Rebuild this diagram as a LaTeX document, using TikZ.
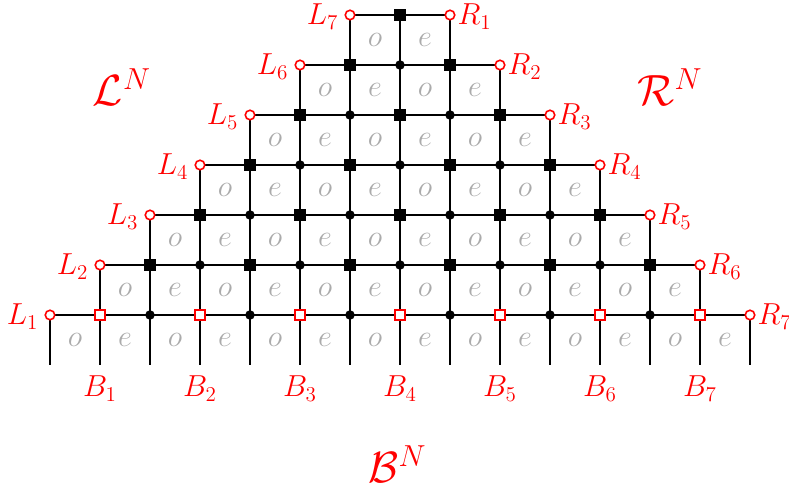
\documentclass[tikz,border=0pt]{standalone}
\begin{document}
\begin{tikzpicture}[x=1cm,y=1cm,
  gridline/.style={line width=1.25pt,black},
  endpt/.style={circle,draw=red,fill=white,line width=0.9pt,inner sep=0pt,minimum size=0.19cm},
  bsq/.style={rectangle,draw=red,fill=white,line width=0.9pt,inner sep=0pt,minimum size=0.2cm},
  fsq/.style={rectangle,fill=black,inner sep=0pt,minimum size=0.23cm},
  bdot/.style={circle,fill=black,inner sep=0pt,minimum size=0.19cm},
  cell/.style={text=black!33,font=\fontsize{17.5}{21}\selectfont},
  lab/.style={text=red,font=\fontsize{17}{20}\selectfont,inner sep=2.5pt},
  biglab/.style={text=red,font=\fontsize{24}{28}\selectfont}]
\useasboundingbox (-1,-3.46) rectangle (14.78,6.3);
% coordinates
\foreach \i in {0,...,14} \coordinate (b\i) at (\i,-1);
\foreach \j in {0,...,6}{
  \pgfmathtruncatemacro\b{14-\j}
  \foreach \i in {\j,...,\b} \coordinate (p\i-\j) at (\i,\j);
}
% horizontal lines
\foreach \j in {0,...,6}{
  \pgfmathtruncatemacro\b{14-\j}
  \draw[gridline] (p\j-\j) -- (p\b-\j);
}
% vertical lines
\foreach \i in {0,...,14}{
  \pgfmathtruncatemacro\m{min(\i,14-\i,6)}
  \draw[gridline] (b\i) -- (p\i-\m);
}
% cell labels
\foreach \i in {0,...,13}{
  \pgfmathtruncatemacro\r{mod(\i,2)}
  \ifnum\r=0 \node[cell] (c\i-m) at (\i+0.5,-0.5) {$o$};
  \else \node[cell] (c\i-m) at (\i+0.5,-0.5) {$e$}; \fi
}
\foreach \j in {0,...,5}{
  \pgfmathtruncatemacro\a{\j+1}
  \pgfmathtruncatemacro\b{12-\j}
  \foreach \i in {\a,...,\b}{
    \pgfmathtruncatemacro\r{mod(\i-\j-1,2)}
    \ifnum\r=0 \node[cell] (c\i-\j) at (\i+0.5,\j+0.5) {$o$};
    \else \node[cell] (c\i-\j) at (\i+0.5,\j+0.5) {$e$}; \fi
  }
}
% bottom row markers
\foreach \i in {1,3,...,13} \node[bsq] (m\i-0) at (p\i-0) {};
\foreach \i in {2,4,...,12} \node[bdot] (m\i-0) at (p\i-0) {};
% upper row markers
\foreach \j in {1,...,6}{
  \pgfmathtruncatemacro\a{\j+1}
  \pgfmathtruncatemacro\b{13-\j}
  \foreach \i in {\a,...,\b}{
    \pgfmathtruncatemacro\r{mod(\i+\j,2)}
    \ifnum\r=1 \node[fsq] (m\i-\j) at (p\i-\j) {};
    \else \node[bdot] (m\i-\j) at (p\i-\j) {}; \fi
  }
}
% end points and labels
\foreach \j in {0,...,6}{
  \pgfmathtruncatemacro\b{14-\j}
  \pgfmathtruncatemacro\kl{\j+1}
  \pgfmathtruncatemacro\kr{7-\j}
  \node[endpt] (L\kl) at (p\j-\j) {};
  \node[endpt] (R\kr) at (p\b-\j) {};
  \node[lab,anchor=east] (Ltext\kl) at ([xshift=-0.14cm,yshift=-0.03cm]p\j-\j) {$L_{\kl}$};
  \node[lab,anchor=west] (Rtext\kr) at ([xshift=0.06cm,yshift=-0.03cm]p\b-\j) {$R_{\kr}$};
}
\foreach \k in {1,...,7}{
  \pgfmathtruncatemacro\i{2*\k-1}
  \node[lab,anchor=north] (Btext\k) at ([yshift=-0.12cm]b\i) {$B_{\k}$};
}
\node[biglab] (LN) at (1.44,4.55) {$\mathcal{L}^N$};
\node[biglab] (RN) at (12.4,4.55) {$\mathcal{R}^N$};
\node[biglab] (BN) at (6.95,-2.98) {$\mathcal{B}^N$};
\end{tikzpicture}
\end{document}
